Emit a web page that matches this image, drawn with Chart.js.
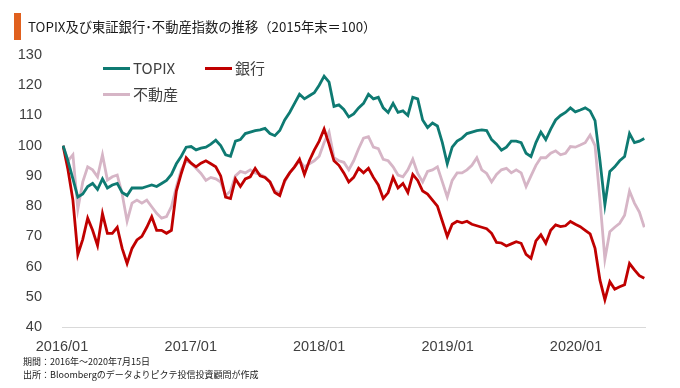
<!DOCTYPE html>
<html><head><meta charset="utf-8">
<script src="https://cdn.jsdelivr.net/npm/chart.js@4.4.1/dist/chart.umd.min.js"></script>
<style>
html,body{margin:0;padding:0;background:#fff}
body{width:680px;height:388px;position:relative;overflow:hidden;font-family:"Noto Sans CJK JP","Noto Sans",sans-serif;color:#404040}
#c{position:absolute;left:0;top:0}
.bar{position:absolute;left:14px;top:13px;width:7px;height:27px;background:#E0601E}
.title{position:absolute;left:28px;top:17px;font-size:13.3px;line-height:20px;white-space:nowrap;color:#1a1a1a}
.lg{position:absolute;font-size:15px;line-height:18px;white-space:nowrap;color:#404040;display:flex;align-items:center}
.lg i{display:inline-block;width:27px;height:3px;margin-right:3px}
.foot{position:absolute;left:23px;font-size:9px;line-height:12px;white-space:nowrap;color:#1a1a1a}
</style></head>
<body>
<canvas id="c" width="680" height="388" style="width:680px;height:388px"></canvas>
<div class="bar"></div>
<div class="title">TOPIX及び東証銀行･不動産指数の推移（2015年末＝100）</div>
<div class="lg" style="left:103px;top:59px"><i style="background:#0E7A72"></i>TOPIX</div>
<div class="lg" style="left:205px;top:59px"><i style="background:#C00000"></i>銀行</div>
<div class="lg" style="left:103px;top:85px"><i style="background:#D6B5C6"></i>不動産</div>
<div class="foot" style="top:356px">期間：2016年～2020年7月15日</div>
<div class="foot" style="top:369px">出所：Bloombergのデータよりピクテ投信投資顧問が作成</div>
<script>
// Categories: observation dates, every 14 days from 2016-01-04
const START_DATE = '2016-01-04';
const STEP_DAYS = 14;
const X_MIN_DATE = '2016-01-01';
const X_MAX_DATE = '2020-07-15';
const TICK_DATES = ['2016-01-01','2017-01-01','2018-01-01','2019-01-01','2020-01-01'];
const TICK_LABELS = ['2016/01','2017/01','2018/01','2019/01','2020/01'];
const Y_TICKS = [40,50,60,70,80,90,100,110,120,130];

const TOPIX = [100,95,89,83,84,86.5,87.5,85.5,89,86,87,87.5,84.5,83.5,86,86,86,86.5,87,86.5,
87.5,88.5,90.5,94,96.5,99.5,99.7,98.6,99.2,99.5,100.5,101.8,100,97,96.5,101.5,102,104,104.5,105,
105.2,105.7,104,103.3,105,108.5,111,114,117,115.5,116.5,117.5,120,123,121,113,113.5,112,109.5,110.5,
112.5,114,117,115.5,116,112.5,111,114,111,111.5,110,116,115.5,108.5,106,107.5,106.5,101,94,99.5,
101.5,102.5,104,104.5,105,105.2,105,102,100.5,98.5,99.5,101.5,101.5,101,97.5,96.4,101,104.5,102,105.5,
108.5,110,111,112.5,111.2,111.8,112.5,111.5,108.3,95,80.5,91.5,93,95,96.4,104,101,101.5,102.4];

const BANKS = [100,92,82,64,69,76,72,67,77.5,71,71,73,66,61,66,68.8,70,73,76.5,72,
72,71,72,85,90.8,96,94.2,93,94.2,95,94,93,90,83,82.5,89,86.5,89,89.7,92.5,
90,89.5,88,84.5,83.5,88.5,91,93,95.5,90.5,95,98.5,101.5,105.5,100.5,95,93.5,91,88,89.5,
92.5,91,92.5,89.5,87,82.5,84.5,89.5,86,87.5,84.5,90.5,88.5,85,84,82,80,75,70,74,
75,74.5,75,74,73.5,73,72.5,71,68,67.8,66.8,67.5,68.2,67.7,64,62.7,68.5,70.5,67.7,72,
73.8,73.2,73.5,74.9,74,73.2,72,70.8,66,55.5,49,55,52.5,53.3,54,61,58.9,57,56.1];

const REALESTATE = [100,95,97,79,88,93,92,89.7,97,88.6,89.7,90.3,84,75,81,82,81,82,79.8,77.6,
76,76.5,79.8,86.4,92,95,94.2,92.5,90.8,88.5,89.5,89,88,83.5,85,90,91.5,91,92,91,
90.5,89.7,88,85,84.5,88,91,93,95,93,94,95,96.5,101,104.5,96,95,94.5,92,95,
99,102.5,103,99.5,99,95.5,95,93,90.3,89.7,92,95.5,90.8,88,91.5,92,93,88,83,88.5,
91,91,92,93.5,96,92,90.8,88,90.5,92,92.5,91,92,91,86.5,90,93.5,96,96,97.5,
98.3,97,97.5,99.7,99.5,100.2,101,103.5,100,82,62.5,71.5,73,74.3,77,85,81,78,73];

const DAY = 86400000;
const ts = s => Date.parse(s + 'T00:00:00Z');
const t0 = ts(START_DATE);
const DATES = TOPIX.map((_, i) => t0 + i * STEP_DAYS * DAY);
const pts = arr => arr.map((v, i) => ({x: DATES[i], y: v}));

const FONT_AX = {family: '"Liberation Sans","Arial",sans-serif', size: 14.5};

new Chart(document.getElementById('c'), {
  type: 'line',
  data: {
    datasets: [
      {label: '不動産', data: pts(REALESTATE), borderColor: '#D6B5C6', borderWidth: 2.8, pointRadius: 0, tension: 0, order: 3},
      {label: '銀行', data: pts(BANKS), borderColor: '#C00000', borderWidth: 2.8, pointRadius: 0, tension: 0, order: 2},
      {label: 'TOPIX', data: pts(TOPIX), borderColor: '#0E7A72', borderWidth: 2.8, pointRadius: 0, tension: 0, order: 1}
    ]
  },
  options: {
    responsive: false, animation: false, events: [],
    layout: {padding: {left: 0, right: 35, top: 55, bottom: 0}},
    plugins: {legend: {display: false}, tooltip: {enabled: false}},
    scales: {
      x: {
        type: 'linear', min: ts(X_MIN_DATE), max: ts(X_MAX_DATE),
        afterBuildTicks: s => { s.ticks = TICK_DATES.map(d => ({value: ts(d)})); },
        afterFit: s => { s.height = 61; },
        grid: {display: false},
        border: {display: true, color: '#D9D9D9', width: 1},
        ticks: {
          autoSkip: false, maxRotation: 0, padding: 3, color: '#404040', font: FONT_AX,
          callback: v => { const k = TICK_DATES.findIndex(d => ts(d) === v); return k >= 0 ? TICK_LABELS[k] : ''; }
        }
      },
      y: {
        min: 40, max: 130,
        afterBuildTicks: s => { s.ticks = Y_TICKS.map(v => ({value: v})); },
        afterFit: s => { s.width = 62; },
        grid: {display: false},
        border: {display: false},
        ticks: {padding: 12, color: '#404040', font: FONT_AX}
      }
    }
  }
});
</script>
</body></html>
